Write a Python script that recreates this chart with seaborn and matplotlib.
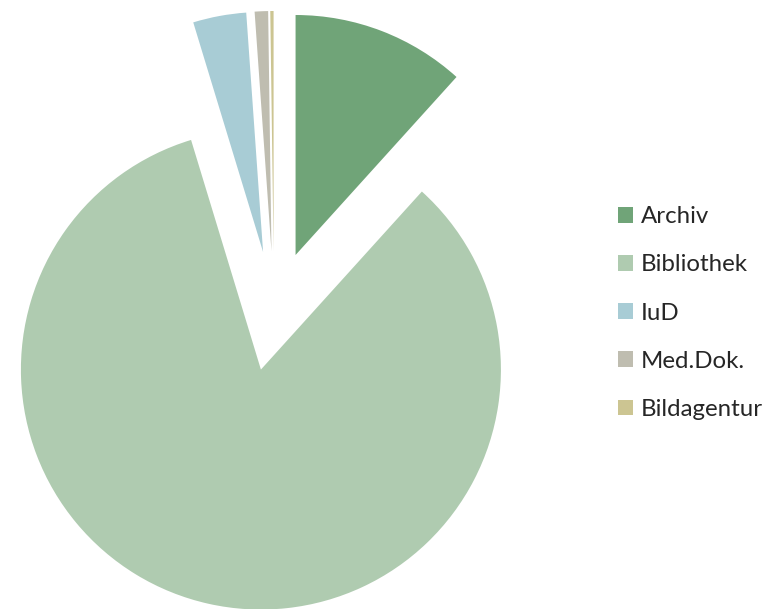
import matplotlib
matplotlib.use("Agg")
import matplotlib.pyplot as plt
import seaborn as sns

labels = ["Archiv", "Bibliothek", "IuD", "Med.Dok.", "Bildagentur"]
shares = [11.7, 83.6, 3.58, 0.9, 0.22]
colors = ["#70a478", "#afcbb0", "#a8ccd5", "#bfbdb0", "#ccc592"]

sns.set_theme(style="white")
plt.rcParams["font.family"] = ["Lato", "DejaVu Sans"]

W, H = 778, 609
fig = plt.figure(figsize=(W / 100, H / 100), dpi=100)
ax = fig.add_axes([0, 0, 1, 1])

# pie radius 1 -> 240 px, centre at (274, 311) px
r_px = 240
cx, cy = 274, 311
wedges, _ = ax.pie(shares, colors=colors, startangle=90, counterclock=False,
                   explode=[0.25] * len(shares), radius=1,
                   wedgeprops=dict(linewidth=0))
ax.set_xlim(-cx / r_px, (W - cx) / r_px)
ax.set_ylim(-(H - cy) / r_px, cy / r_px)
ax.set_aspect("equal")
ax.axis("off")

leg = ax.legend(wedges, labels, loc="center left",
                bbox_to_anchor=(606 / W, 1 - 313 / H),
                bbox_transform=fig.transFigure,
                frameon=False, fontsize=17.3, handlelength=0.62, handleheight=0.62,
                handletextpad=0.33, labelspacing=1.13, borderpad=0)

fig.savefig("out.png", dpi=100)
